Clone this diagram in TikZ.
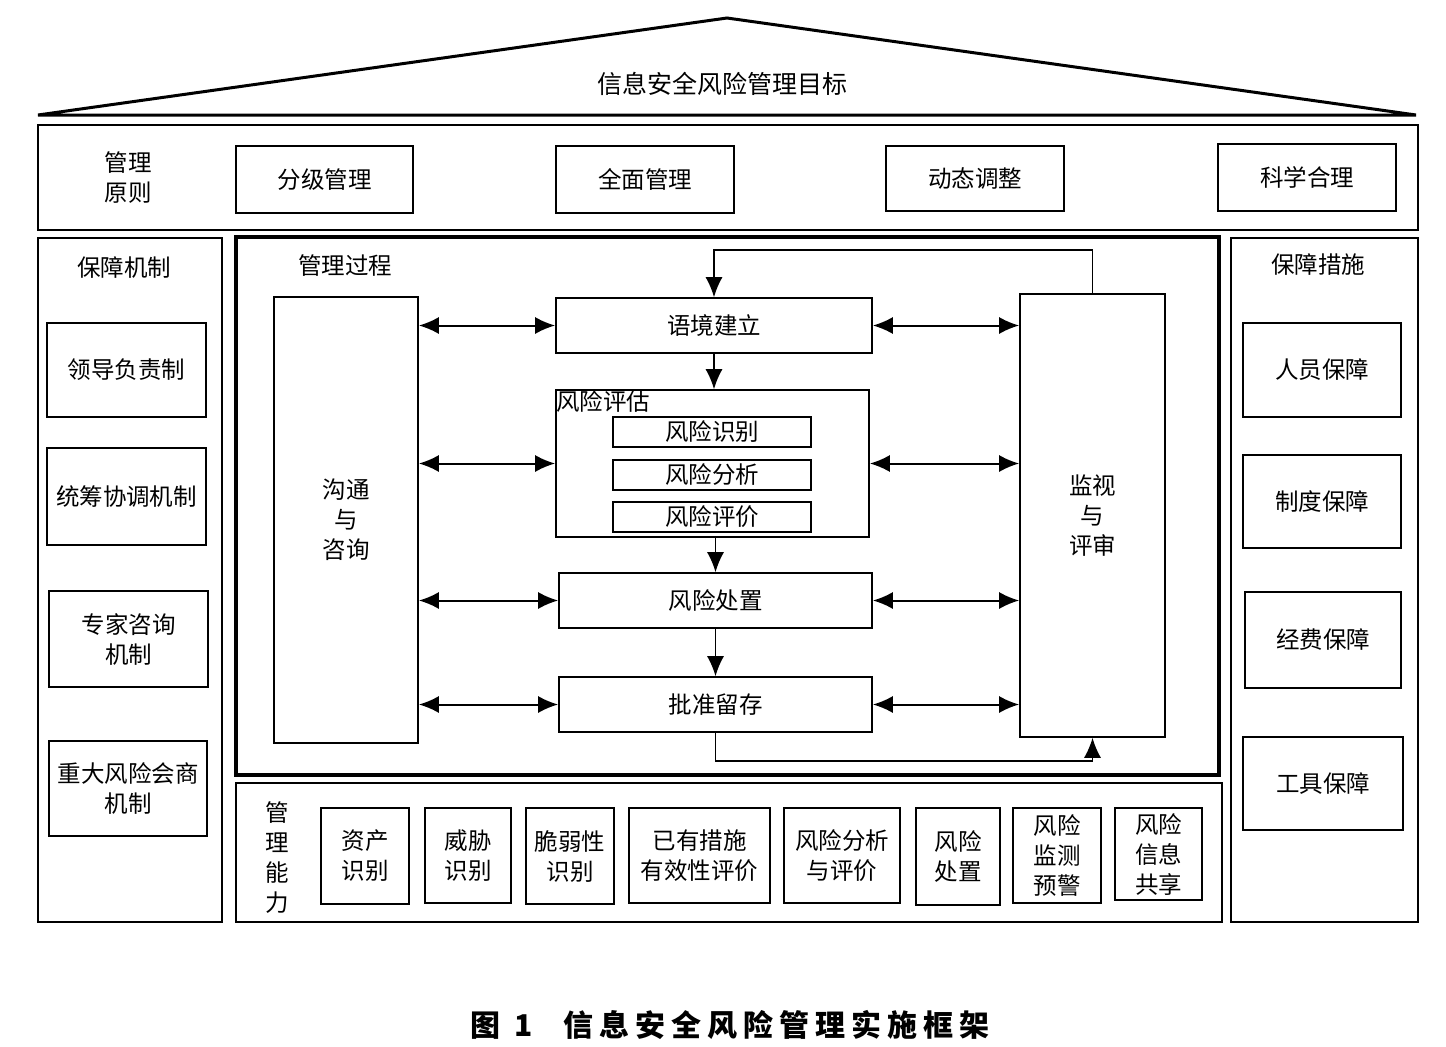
\documentclass[tikz,border=0pt]{standalone}
\usepackage{fontspec}
\setmainfont{Noto Sans CJK SC}
\usetikzlibrary{arrows.meta}

\begin{document}
\begin{tikzpicture}[x=1pt,y=-1pt,>={Latex[length=20pt,width=17pt]},
  every node/.append style={font=\fontsize{23.5}{30}\selectfont},
  frame/.style={draw,line width=2.6pt,inner sep=0pt},
  card/.style={draw,line width=2.4pt,align=center,inner sep=0pt},
  proc/.style={draw,line width=1.6pt,align=center,inner sep=0pt},
  sz/.style 2 args={minimum width=#1,minimum height=#2},
  link/.style={<->,line width=2pt}]
  \useasboundingbox (0,0) rectangle (1446,1047);

  \draw[line width=3pt,line join=miter] (38,115) -- (727,18) -- (1416,115) -- cycle;
  \node[font=\fontsize{25}{30}\selectfont] (goal) at (722,84) {信息安全风险管理目标};

  \node[frame,sz={1380}{105}] (yz) at (728,177.5) {};
  \node[align=center] (yzt) at (128,178) {管理\\原则};
  \node[card,sz={177}{67}] (fj) at (324.5,179.5) {分级管理};
  \node[card,sz={178}{67}] (qm) at (645,179.5) {全面管理};
  \node[card,sz={178}{65}] (dt) at (975,178.5) {动态调整};
  \node[card,sz={178}{67}] (kx) at (1307,177.5) {科学合理};

  \node[frame,sz={184}{684}] (jz) at (130,580) {};
  \node (jzt) at (124,268) {保障机制};
  \node[card,sz={159}{94}] (ld) at (126.5,370) {领导负责制};
  \node[card,sz={159}{97}] (tc) at (126.5,496.5) {统筹协调机制};
  \node[card,sz={159}{96}] (zj) at (128.5,639) {专家咨询\\机制};
  \node[card,sz={158}{95}] (zd) at (128,788.5) {重大风险会商\\机制};

  \node[frame,sz={187}{684}] (cs) at (1324.5,580) {};
  \node (cst) at (1318,265) {保障措施};
  \node[card,sz={158}{94}] (ry) at (1322,370) {人员保障};
  \node[card,sz={158}{93}] (zdb) at (1322,501.5) {制度保障};
  \node[card,sz={156}{96}] (jf) at (1323,640) {经费保障};
  \node[card,sz={160}{93}] (gj) at (1323,783.5) {工具保障};

  \node[frame,line width=3.2pt,sz={983}{538}] (gc) at (727.5,506) {};
  \node (gct) at (345,266) {管理过程};
  \node[proc,sz={144}{446}] (gt) at (346,520) {沟通\\与\\咨询};
  \node[proc,sz={145}{443}] (js) at (1092.5,515.5) {监视\\与\\评审};
  \node[proc,sz={316}{55}] (yj) at (714,325.5) {语境建立};
  \node[proc,sz={313}{147}] (pg) at (712.5,463.5) {};
  \node[anchor=north west,inner sep=1pt] (pgt) at (pg.north west) {风险评估};
  \node[proc,sz={198}{30}] (sb) at (712,432) {风险识别};
  \node[proc,sz={198}{30}] (fx) at (712,475) {风险分析};
  \node[proc,sz={198}{30}] (pj) at (712,517) {风险评价};
  \node[proc,sz={313}{55}] (cz) at (715.5,600.5) {风险处置};
  \node[proc,sz={313}{55}] (pz) at (715.5,704.5) {批准留存};

  \foreach \n in {yj,pg,cz,pz} {
    \draw[link] (gt.east |- \n.west) -- (\n.west);
    \draw[link] (\n.east) -- (js.west |- \n.east);
  }
  \draw[->,line width=1.6pt] (yj.south) -- (yj.south |- pg.north);
  \draw[->,line width=1.6pt] (cz.north |- pg.south) -- (cz.north);
  \draw[->,line width=1.6pt] (cz.south) -- (pz.north);
  \draw[->,line width=1.6pt] (js.north) -- ++(0,-43) -| (yj.north);
  \draw[->,line width=1.6pt] (pz.south) -- ++(0,28) -| (js.south);

  \node[frame,sz={986}{139}] (nl) at (729,852.5) {};
  \node[align=center] (nlt) at (277,858) {管\\理\\能\\力};
  \node[card,sz={88}{96}] (zc) at (365,856) {资产\\识别};
  \node[card,sz={86}{95}] (wx) at (468,855.5) {威胁\\识别};
  \node[card,sz={88}{96}] (cr) at (570,856) {脆弱性\\识别};
  \node[card,sz={141}{95}] (yy) at (699.5,855.5) {已有措施\\有效性评价};
  \node[card,sz={116}{95}] (fp) at (842,855.5) {风险分析\\与评价};
  \node[card,sz={84}{97}] (fc) at (958,856.5) {风险\\处置};
  \node[card,sz={88}{95}] (jc) at (1057,855.5) {风险\\监测\\预警};
  \node[card,sz={87}{92}] (gx) at (1158.5,854) {风险\\信息\\共享};

  \node (cap) at (730,1025) {\fontsize{30}{36}\selectfont\bfseries\addfontfeature{LetterSpace=20}图\hspace{14pt}1\hspace{30pt}信息安全风险管理实施框架};
\end{tikzpicture}
\end{document}
